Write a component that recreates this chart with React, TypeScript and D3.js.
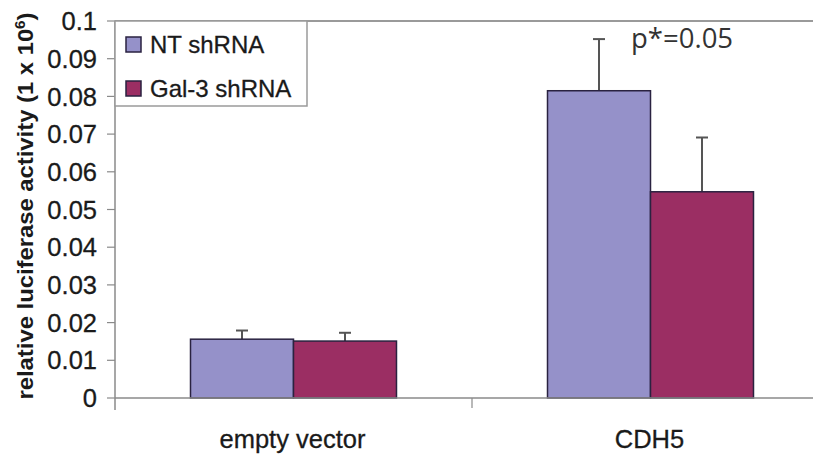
import React from "react";
import * as d3 from "d3";

const categories = ["empty vector", "CDH5"];
const seriesNames = ["NT shRNA", "Gal-3 shRNA"];
const ntValues = [0.0156, 0.0815];
const ntErrors = [0.0023, 0.0137];
const galValues = [0.0151, 0.0547];
const galErrors = [0.0022, 0.0144];
const yTicks = [0, 0.01, 0.02, 0.03, 0.04, 0.05, 0.06, 0.07, 0.08, 0.09, 0.1];
const seriesColors = ["#9591c9", "#9b2e63"];
const annotation = "p*=0.05";

const W = 813;
const H = 456;

export default function App() {
  const y = d3.scaleLinear().domain([0, 0.1]).range([398, 21]);
  const x0 = d3.scaleBand<string>().domain(categories).range([115, 829]).padding(0);
  const bw = x0.bandwidth();
  const x1 = d3
    .scaleBand<string>()
    .domain(seriesNames)
    .range([bw * 0.2115, bw * 0.7885])
    .padding(0);
  const seriesData = [
    { name: seriesNames[0], values: ntValues, errors: ntErrors, color: seriesColors[0] },
    { name: seriesNames[1], values: galValues, errors: galErrors, color: seriesColors[1] },
  ];
  const axisColor = "#8a8a8a";
  const font = "Arial, 'Liberation Sans', sans-serif";
  const textFill = "#1a1a1a";

  return (
    <div style={{ position: "absolute", left: 0, top: 0 }}>
      <svg width={W} height={H} style={{ display: "block", background: "#fff" }}>
        {/* plot area top border */}
        <line x1={115} x2={W} y1={y(0.1)} y2={y(0.1)} stroke="#9a9a9a" strokeWidth={2} />
        {/* bars */}
        {seriesData.map((s) =>
          categories.map((c, i) => {
            const bx = (x0(c) as number) + (x1(s.name) as number);
            const v = s.values[i];
            const cx = bx + x1.bandwidth() / 2;
            return (
              <g key={s.name + c}>
                <line x1={cx} x2={cx} y1={y(v)} y2={y(v + s.errors[i])} stroke="#555" strokeWidth={2} />
                <line x1={cx - 6} x2={cx + 6} y1={y(v + s.errors[i])} y2={y(v + s.errors[i])} stroke="#555" strokeWidth={2} />
                <rect
                  x={bx}
                  y={y(v)}
                  width={x1.bandwidth()}
                  height={y(0) - y(v)}
                  fill={s.color}
                  stroke="#2a2240"
                  strokeWidth={1.5}
                />
              </g>
            );
          })
        )}
        {/* y axis */}
        <line x1={115} x2={115} y1={y(0.1)} y2={410} stroke={axisColor} strokeWidth={1.5} />
        {yTicks.map((t) => (
          <g key={t}>
            <line x1={107} x2={115} y1={y(t)} y2={y(t)} stroke={axisColor} strokeWidth={1.2} />
            <text
              x={97}
              y={y(t)}
              dy="0.36em"
              textAnchor="end"
              fontFamily={font}
              fontSize={25.5}
              fill={textFill}
              stroke={textFill}
              strokeWidth={0.3}
            >
              {t === 0 ? "0" : String(t)}
            </text>
          </g>
        ))}
        {/* x axis */}
        <line x1={115} x2={W} y1={y(0)} y2={y(0)} stroke={axisColor} strokeWidth={1.5} />
        {categories.map((c, i) =>
          i > 0 ? (
            <line key={"tk" + c} x1={x0(c) as number} x2={x0(c) as number} y1={y(0)} y2={408} stroke={axisColor} strokeWidth={1.2} />
          ) : null
        )}
        {categories.map((c) => (
          <text
            key={c}
            x={(x0(c) as number) + bw / 2 - 1}
            y={448}
            textAnchor="middle"
            fontFamily={font}
            fontSize={25.5}
            fill={textFill}
            stroke={textFill}
            strokeWidth={0.3}
          >
            {c}
          </text>
        ))}
        {/* y label */}
        <text
          transform={`translate(33,206) rotate(-90)`}
          textAnchor="middle"
          fontFamily={font}
          fontWeight="bold"
          fontSize={22}
          fill={textFill}
          textLength={387}
          lengthAdjust="spacingAndGlyphs"
        >
          relative luciferase activity (1 x 10
          <tspan dy={-8} fontSize={14}>6</tspan>
          <tspan dy={8}>)</tspan>
        </text>
        {/* legend */}
        <rect x={115} y={21} width={192} height={85} fill="#fff" stroke="#9a9a9a" strokeWidth={1.5} />
        {seriesData.map((s, i) => (
          <g key={"lg" + s.name} transform={`translate(126,${37 + i * 44})`}>
            <rect x={0} y={0} width={15} height={15} fill={s.color} stroke="#2a2240" strokeWidth={1.5} />
            <text x={24} y={16} fontFamily={font} fontSize={24} fill={textFill} stroke={textFill} strokeWidth={0.3}>
              {s.name}
            </text>
          </g>
        ))}
        {/* annotation */}
        <text x={631} y={48} fontFamily="'Open Sans', 'Noto Sans', sans-serif" fontSize={27.5} fill="#333">
          {annotation}
        </text>
      </svg>
    </div>
  );
}
